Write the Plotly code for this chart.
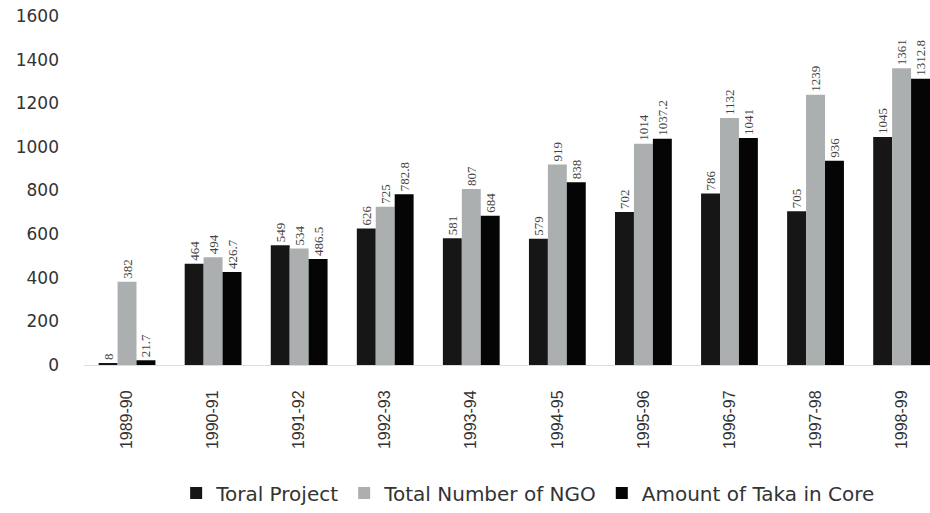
import plotly.graph_objects as go

years = ["1989-90", "1990-91", "1991-92", "1992-93", "1993-94",
         "1994-95", "1995-96", "1996-97", "1997-98", "1998-99"]
toral_project = [8, 464, 549, 626, 581, 579, 702, 786, 705, 1045]
total_ngo = [382, 494, 534, 725, 807, 919, 1014, 1132, 1239, 1361]
amount_taka = [21.7, 426.7, 486.5, 782.8, 684, 838, 1037.2, 1041, 936, 1312.8]

series = [
    ("Toral Project", toral_project, "#161616"),
    ("Total Number of NGO", total_ngo, "#acafaf"),
    ("Amount of Taka in Core", amount_taka, "#050505"),
]

fig = go.Figure()
for name, vals, color in series:
    fig.add_trace(go.Bar(
        name=name, x=years, y=vals,
        marker=dict(color=color, line=dict(width=0)),
        text=[f"{v:g}" for v in vals],
        textposition="outside",
        textangle=-90,
        constraintext="none",
        cliponaxis=False,
        textfont=dict(family="Liberation Serif", size=13, color="#444444"),
    ))

fig.update_layout(
    width=930, height=513,
    margin=dict(l=84, r=0, t=16, b=148),
    paper_bgcolor="white", plot_bgcolor="white",
    barmode="group", bargap=0.34, bargroupgap=0,
    showlegend=True,
    legend=dict(orientation="h", x=0.525, xanchor="center", y=-0.367,
                yanchor="middle",
                font=dict(family="DejaVu Sans", size=20, color="#333333"),
                itemwidth=30, tracegroupgap=0),
    font=dict(family="Liberation Sans", color="#333333"),
)
fig.update_xaxes(
    range=[-0.5, 9.33],
    tickangle=-90, tickfont=dict(size=16, color="#333333"),
    showline=True, linecolor="#dddddd", linewidth=1,
    ticks="", showgrid=False, ticklabelstandoff=18,
)
fig.update_yaxes(
    range=[0, 1600], dtick=200,
    tickfont=dict(family="DejaVu Sans", size=17, color="#333333"),
    showgrid=False, zeroline=False, showline=False,
    ticklabelstandoff=24,
)

fig.write_html("out.html")
